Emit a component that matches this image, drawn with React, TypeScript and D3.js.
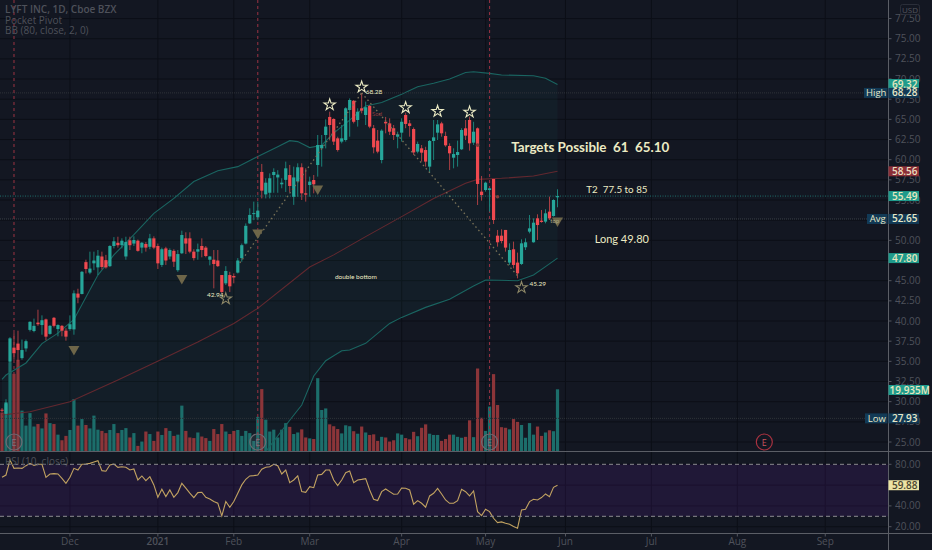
import { useEffect, useRef } from 'react';
import * as d3 from 'd3';

// [open, high, low, close], one row per trading day
const candles: [number, number, number, number][] = [
  [29, 29.2, 28.7, 28.95], [28.5, 30.3, 27.93, 29.9], [34.96, 38, 34.8, 37.85], [36.7, 38.5, 35.2, 36], [37.2, 38.8, 35, 36.4],
  [35.4, 37.7, 35.2, 36.4], [36.6, 37.7, 36.2, 37.5], [38.9, 39.96, 38.7, 39.9], [38.76, 40.3, 38.6, 39.4], [39.8, 41.4, 39.4, 39.6],
  [39.5, 40.7, 38.3, 40.1], [40.2, 40.3, 37.6, 38.06], [38.4, 39.5, 38.3, 39.4], [40.4, 40.5, 39.2, 39.4], [39, 39.6, 38.1, 39.5],
  [39.4, 39.5, 38.1, 38.8], [38.8, 39.1, 37.56, 38.06], [39, 40.7, 38.8, 39.6], [38.96, 43.8, 38.3, 43.43], [43.4, 44, 42.2, 42.9],
  [43.35, 46.2, 43.3, 46.1], [47.3, 47.6, 45.9, 46.45], [46, 48.6, 45.8, 46.5], [47.15, 48.6, 46.3, 47.5], [46.65, 48.8, 45.7, 48.1],
  [48, 48.6, 46.4, 46.7], [47.55, 48.2, 46.5, 46.65], [46.8, 49.4, 46.7, 49.3], [49.3, 50.4, 49, 49.88], [49.7, 50.45, 49.1, 49.4],
  [49.4, 50.25, 49, 49.96], [48, 50.45, 47.6, 49.8], [50, 50.45, 48.8, 49.4], [49.6, 50.5, 49.3, 50.04], [49.96, 50.1, 48.6, 48.7],
  [49.1, 49.8, 48.4, 49.7], [49.55, 49.8, 48.6, 49.1], [49.2, 50.8, 48.9, 50.25], [50.25, 50.5, 48.9, 49.1], [49.3, 49.6, 46.45, 47.15],
  [46.95, 49.1, 46.7, 48.9], [49, 49.2, 46.95, 47.5], [48, 49, 47.65, 48.8], [48.7, 48.9, 46.7, 47.35], [46.3, 48.8, 46.1, 48.3],
  [48.4, 51.2, 48.3, 50.66], [50.25, 51, 48.3, 49.6], [50.25, 51, 48.4, 48.6], [48.6, 48.9, 47.5, 47.8], [48.6, 49.6, 47.6, 48.9],
  [49.3, 50.25, 47.9, 48.8], [49.1, 49.3, 47.9, 48.06], [47.6, 48.06, 46.9, 48], [47.6, 48.8, 44.05, 47.07], [47.5, 48.8, 46.7, 46.8],
  [45.7, 45.7, 43.4, 43.6], [44.67, 46.8, 44.46, 46.2], [45.7, 46.1, 43.6, 44.3], [45.58, 45.9, 44.67, 45.4], [46, 47.8, 45.9, 47.5],
  [47.8, 49.6, 47.35, 49.4], [49.6, 52.1, 49.5, 51.8], [52.1, 53.97, 52.03, 53.15], [53.3, 54.8, 52.5, 53.38], [52.86, 54.8, 52.5, 53.68],
  [58.48, 59.47, 55.2, 56.16], [55.7, 57.7, 55.2, 57.15], [55.9, 58.3, 55.2, 57.7], [58.1, 58.93, 55.9, 58.48], [57.8, 58.7, 55.9, 58.15],
  [56.95, 57.7, 56.45, 57.15], [57.5, 59.76, 56, 58.93], [58.1, 59.35, 56, 56.74], [55.4, 59.14, 54.4, 57.8], [57.3, 59.55, 55.4, 59.06],
  [59.06, 59.55, 55, 55.83], [55.83, 58.93, 54.8, 55.67], [56.86, 57.9, 55.4, 57.28], [57.48, 58.1, 55.83, 56.95], [59.34, 63.06, 57.9, 61.82],
  [61.41, 63.06, 59.14, 61.82], [63.06, 65, 61.4, 64.1], [65.3, 65.95, 62.4, 64.3], [65.05, 65.13, 61.82, 62.24], [62.65, 62.85, 61, 61.2],
  [62.24, 64.3, 62.03, 62.65], [62.44, 66.5, 62.24, 66.37], [66.16, 67.6, 62.85, 67.4], [67.3, 67.4, 64.5, 64.7], [64.92, 66.37, 64.1, 65.95],
  [66.37, 68.28, 65.75, 66.08], [65.54, 67.2, 64.3, 66.5], [66.66, 66.78, 63.9, 64.1], [63.9, 64.3, 60.79, 61.53], [62.36, 63.68, 60.79, 61],
  [59.96, 63.77, 59.55, 63.6], [64.7, 65.3, 63.27, 64.5], [64.5, 65.13, 63.06, 63.47], [63.9, 64.3, 62.44, 63.06], [62.85, 63.47, 61.41, 63.14],
  [63.35, 65.13, 62.24, 64.7], [65.54, 65.83, 63.9, 64.43], [64.5, 64.92, 62.85, 64.18], [63.8, 64, 60.58, 60.9], [61, 62.24, 60.79, 61.95],
  [61.41, 61.82, 59.76, 60.87], [61.2, 61.6, 59.14, 59.76], [59.14, 62.44, 58.4, 62.32], [62.32, 64.92, 59.96, 62.77], [63.35, 64.92, 62.44, 64.38],
  [64.5, 64.7, 62.85, 63.27], [62.94, 63.47, 61.6, 61.78], [61.7, 62.03, 58.72, 60.79], [60.25, 61.41, 58.93, 60.7], [60.58, 62.36, 59.14, 60.95],
  [61.29, 63.9, 61.2, 63.68], [63.89, 64.92, 62.44, 62.98], [64.92, 65.33, 61.12, 62.03], [62.11, 64.7, 61.82, 63.47], [63.89, 64, 54.38, 56.99],
  [56.04, 57.98, 54.92, 55.62], [56.24, 57.28, 56.04, 57.15], [56.24, 56.45, 53.56, 56.45], [57.61, 57.61, 52.03, 52.52], [50.58, 51.29, 49.22, 49.76],
  [50.58, 51.37, 49.63, 49.92], [51.29, 51.29, 48.6, 49.1], [47.24, 49.63, 46.95, 48.8], [48.89, 49.84, 46.53, 46.95], [47.24, 48.48, 45.29, 45.91],
  [47.07, 50.13, 46.95, 49.63], [49.14, 50.25, 48.8, 49.76], [51.08, 53.14, 50.87, 51.49], [49.76, 52.73, 49.71, 52.19], [52.73, 53.23, 50.05, 51.9],
  [52.44, 53.76, 52.19, 52.28], [52.32, 53.85, 52.11, 53.35], [53.56, 55.42, 52.52, 52.73], [53.02, 55.09, 52.94, 55], [55.34, 56.33, 54.1, 55.49],
];

// millions of shares
const volumes = [
  12.5, 15.2, 28.6, 24.9, 29.4, 13.1, 8.3, 12.3, 8, 8.8, 7.4, 12.2, 9.1, 8.8, 5.4, 3.6, 5, 6.9, 16.8, 8.3,
  10.4, 8.5, 7.4, 11.5, 7, 6.6, 5.9, 6.9, 8.8, 5.9, 6.9, 7.5, 4.5, 5.9, 1.8, 3.2, 6.4, 5.6, 3.4, 6.4,
  5.3, 7.5, 6.6, 5, 5.4, 14.7, 6.6, 4.5, 4.3, 6.1, 4.8, 4.3, 3.4, 7.2, 5.6, 8.8, 6.4, 5.6, 6.6, 6.9,
  5, 6.6, 5.9, 3.4, 11.1, 20, 10.2, 6.4, 7, 4.5, 7, 9.1, 7.9, 5.6, 6.1, 7.1, 4.5, 4.2, 4, 23.5,
  13.3, 13.8, 8.7, 8.1, 7.2, 5.8, 8.4, 8.1, 6.5, 5.7, 8, 6.1, 5.3, 5.5, 3.4, 4.7, 4.5, 3.2, 3.6, 5.8,
  5.4, 4.3, 3.9, 6.3, 4.9, 7.6, 8.7, 5.7, 5.3, 5.3, 3.4, 4, 5.4, 5.4, 4.7, 4.4, 4.7, 10, 4.6, 26.6,
  10.8, 6.6, 14.4, 24.8, 14.9, 7.8, 7.6, 7.1, 10.4, 9.5, 8.5, 4.4, 9.1, 5.4, 8, 5, 6.1, 6.8, 6.5, 19.935,
];

const rsiValues = [
  67.5, 69.7, 84.1, 76.1, 76.4, 76.1, 78.7, 80.9, 79, 80, 80, 67.5, 70.7, 71, 70.7, 66.5, 61.7, 67.5, 76.1, 74.5,
  80, 80.3, 80.9, 82.2, 83.5, 73.9, 73.3, 79.3, 80.3, 77.1, 77.7, 77.1, 74.5, 75.5, 64.9, 68.8, 64.3, 68.1, 60.2, 48.3,
  56, 49, 55.4, 48.3, 52.8, 61.7, 57, 52.2, 48, 52.8, 53.1, 48.3, 46.7, 44.2, 42.6, 30.4, 44.2, 38.7, 44.2, 52.2,
  60.2, 65.6, 68.8, 69.1, 69.7, 75.2, 77.1, 77.7, 80, 78.7, 70.7, 74.5, 62.4, 64.9, 68.8, 53.8, 53.1, 58.5, 57.5, 69.7,
  70.3, 74.5, 74.5, 64.9, 59.5, 64.9, 72, 73.5, 62.3, 64.9, 65.5, 66.2, 55.3, 46.4, 45.1, 53.7, 56.3, 53.7, 51.2, 51.5,
  57.2, 56.9, 55.3, 41.6, 45.1, 42.5, 38.7, 49.6, 52.1, 56.9, 51.5, 45.7, 42.5, 42.5, 45.1, 55.9, 53.7, 49.6, 54.4, 34.5,
  30.7, 36.8, 34.5, 28.1, 24, 24.6, 23.4, 22.4, 20.2, 18.6, 36.1, 36.8, 44.1, 46.4, 45.7, 48, 51.5, 48.9, 57.9, 59.88,
];

// Bollinger readings: [bar, price]
const bbUpper: [number, number][] = [
  [0, 32.77], [1, 33.3], [6, 34.8], [10, 37.2], [14, 38.5], [18, 40.2], [24, 45.7], [28, 48.2], [33, 50.7], [38, 53.35],
  [43, 55.2], [48, 57.3], [54, 58.64], [59, 59.14], [64, 60.4], [69, 61.6], [72, 62.36], [74, 62.24], [77, 61.5], [80, 61.8],
  [83, 63.3], [87, 64.9], [91, 66.66], [95, 67.1], [100, 68.1], [104, 69.05], [108, 69.47], [112, 70], [116, 70.8], [118, 70.9],
  [122, 70.7], [125, 70.5], [133, 70.4], [136, 70.1], [139, 69.32],
];
const bbBasis: [number, number][] = [
  [0, 28.35], [7, 28.76], [17, 30], [29, 32.7], [40, 35.25], [49, 37.4], [58, 39.7], [64, 41.57], [77, 46.7], [83, 48.2],
  [91, 50.46], [100, 52.94], [108, 55.2], [116, 57.07], [119, 57.56], [125, 57.69], [133, 57.98], [139, 58.56],
];
const bbLower: [number, number][] = [
  [0, 22], [66, 23.8], [72, 27.7], [75, 29.58], [78, 33.18], [81, 35.08], [85, 36.32], [87, 36.4], [91, 37.23], [97, 39.7],
  [100, 40.45], [106, 41.69], [112, 42.7], [118, 44.34], [121, 45.09], [129, 45], [133, 45.7], [136, 46.74], [139, 47.8],
];

const priceTicks = d3.range(25, 80, 2.5);
const rsiTicks = [20, 40, 60, 80];
// these sit fully behind an axis tag in the reference
const hiddenPriceTicks = [47.5, 52.5];
const hiddenRsiTicks = [60];
const monthTicks: [number, string][] = [
  [17, 'Dec'], [39, '2021'], [58, 'Feb'], [77, 'Mar'], [100, 'Apr'], [121, 'May'], [141, 'Jun'], [162.5, 'Jul'], [184, 'Aug'], [206, 'Sep'],
];
const earningsBars = [3, 64, 122, 190.75];
const topStars: [number, number][] = [[82, 66.8], [90, 69], [101, 66.45], [109, 66], [117, 65.9]];
const lowStars: [number, number][] = [[56, 42.75], [130, 44.15]];
const pivots: [number, number][] = [[18, 36.5], [45, 45.3], [64, 50.95], [79, 56.4], [139, 52.45]];
const smallDots: [number, number][] = [[119, 61.8], [124, 55.4]];
const trendUp: [number, number][] = [[59.5, 47.2], [90, 68.28]];
const trendDown: [number, number][] = [[90, 68.28], [129, 45.6]];

const FONT = '"Open Sans", "Noto Sans", sans-serif';

export default function App() {
  const svgRef = useRef<SVGSVGElement>(null);

  useEffect(() => {
    if (!svgRef.current) return;
    const svg = d3.select(svgRef.current);
    svg.selectAll('*').remove();

    const axisX = 888.5;
    const paneBottom = 451.5;
    const rsiBottom = 533.5;

    const x = d3.scaleLinear().domain([0, 139]).range([2, 557.5]);
    const y = d3.scaleLinear().domain([25, 75]).range([442, 38.7]);
    const yVol = d3.scaleLinear().domain([0, 19.935]).range([paneBottom, 389.3]);
    const yRsi = d3.scaleLinear().domain([20, 80]).range([526.7, 464.3]);

    svg.append('rect').attr('width', 932).attr('height', 550).attr('fill', '#131722');

    const defs = svg.append('defs');
    defs.append('clipPath').attr('id', 'pricePane').append('rect')
      .attr('width', axisX).attr('height', paneBottom);

    // Grid
    const grid = svg.append('g').attr('stroke', '#0c0f17').attr('stroke-width', 1);
    priceTicks.forEach(t => {
      grid.append('line').attr('x1', 0).attr('x2', axisX).attr('y1', y(t)).attr('y2', y(t));
    });
    rsiTicks.forEach(t => {
      grid.append('line').attr('x1', 0).attr('x2', axisX).attr('y1', yRsi(t)).attr('y2', yRsi(t));
    });
    monthTicks.forEach(([k]) => {
      grid.append('line').attr('x1', x(k)).attr('x2', x(k)).attr('y1', 0).attr('y2', rsiBottom);
    });

    // RSI band goes over the grid but keeps it visible
    svg.append('rect')
      .attr('x', 0).attr('width', axisX)
      .attr('y', yRsi(80)).attr('height', yRsi(30) - yRsi(80))
      .attr('fill', '#7b1fc8').attr('opacity', 0.13);

    const pane = svg.append('g').attr('clip-path', 'url(#pricePane)');

    // Bollinger fill
    const lowerAt = d3.scaleLinear().domain(bbLower.map(d => d[0])).range(bbLower.map(d => d[1]));
    const area = d3.area<[number, number]>()
      .x(d => x(d[0]))
      .y0(d => y(lowerAt(d[0])))
      .y1(d => y(d[1]));
    pane.append('path').attr('d', area(bbUpper)).attr('fill', '#26a69a').attr('opacity', 0.055);

    // Volume
    pane.append('g').selectAll('rect').data(volumes).join('rect')
      .attr('x', (_, i) => x(i) - 1.6)
      .attr('width', 3.2)
      .attr('y', d => yVol(d))
      .attr('height', d => paneBottom - yVol(d))
      .attr('fill', (_, i) => candles[i][3] >= candles[i][0] ? '#1c6e6b' : '#8c3539');

    // Bollinger lines
    const bandLine = d3.line<[number, number]>().x(d => x(d[0])).y(d => y(d[1]));
    pane.append('path').attr('d', bandLine(bbUpper)).attr('fill', 'none').attr('stroke', '#1a6561').attr('stroke-width', 1.1);
    pane.append('path').attr('d', bandLine(bbLower)).attr('fill', 'none').attr('stroke', '#1a6561').attr('stroke-width', 1.1);
    pane.append('path').attr('d', bandLine(bbBasis)).attr('fill', 'none').attr('stroke', '#63282f').attr('stroke-width', 1.1);

    // Price lines
    const priceLine = (value: number, color: string, dash: string) => {
      pane.append('line')
        .attr('x1', 0).attr('x2', axisX).attr('y1', y(value)).attr('y2', y(value))
        .attr('stroke', color).attr('stroke-dasharray', dash);
    };
    priceLine(68.28, '#2e3238', '1,1');
    priceLine(52.65, '#3c4046', '1,1');
    priceLine(27.93, '#2e3238', '1,1');
    priceLine(55.49, '#1f6f6c', '1,1.5');

    // Earnings markers
    earningsBars.slice(0, 3).forEach(k => {
      pane.append('line')
        .attr('x1', x(k)).attr('x2', x(k)).attr('y1', 0).attr('y2', paneBottom)
        .attr('stroke', '#8f3040').attr('stroke-width', 1.1).attr('stroke-dasharray', '3,3');
    });

    // Candles
    const candle = pane.append('g').selectAll('g').data(candles).join('g');
    candle.append('line')
      .attr('x1', (_, i) => x(i)).attr('x2', (_, i) => x(i))
      .attr('y1', d => y(d[1])).attr('y2', d => y(d[2]))
      .attr('stroke', d => d[3] >= d[0] ? '#1b8279' : '#a93f44');
    candle.append('rect')
      .attr('x', (_, i) => x(i) - 1.6)
      .attr('width', 3.2)
      .attr('y', d => y(Math.max(d[0], d[3])))
      .attr('height', d => Math.max(1, Math.abs(y(d[0]) - y(d[3]))))
      .attr('fill', d => d[3] >= d[0] ? '#26a69a' : '#f0494f');

    earningsBars.forEach((k, i) => {
      const future = i === 3;
      pane.append('circle')
        .attr('cx', x(k)).attr('cy', 442).attr('r', 8)
        .attr('fill', future ? 'none' : '#6d6a72').attr('fill-opacity', 0.15)
        .attr('stroke', future ? '#a83240' : '#6d6a72')
        .attr('stroke-width', 1.2);
      pane.append('text')
        .attr('x', x(k)).attr('y', 445.5).attr('text-anchor', 'middle')
        .attr('font-family', FONT).attr('font-size', 9)
        .attr('fill', future ? '#c9545f' : '#7a7780')
        .text('E');
    });

    // Trend lines
    [trendUp, trendDown].forEach(seg => {
      pane.append('path').attr('d', bandLine(seg))
        .attr('fill', 'none').attr('stroke', '#7a7358')
        .attr('stroke-width', 1.3).attr('stroke-dasharray', '1.5,3');
    });

    // Pocket pivot triangles
    const tri = d3.symbol().type(d3.symbolTriangle).size(52);
    pane.append('g').selectAll('path').data(pivots).join('path')
      .attr('d', tri)
      .attr('transform', d => `translate(${x(d[0])},${y(d[1])}) rotate(180)`)
      .attr('fill', '#6e6649');

    pane.append('g').selectAll('circle').data(smallDots).join('circle')
      .attr('cx', d => x(d[0])).attr('cy', d => y(d[1])).attr('r', 1.8)
      .attr('fill', '#7d3b39');

    // Stars
    const star = d3.symbol().type(d3.symbolStar).size(40);
    pane.append('g').selectAll('path').data(topStars).join('path')
      .attr('d', star)
      .attr('transform', d => `translate(${x(d[0])},${y(d[1])})`)
      .attr('fill', 'none').attr('stroke', '#ecebc4').attr('stroke-width', 1.1);
    pane.append('g').selectAll('path').data(lowStars).join('path')
      .attr('d', star)
      .attr('transform', d => `translate(${x(d[0])},${y(d[1])})`)
      .attr('fill', 'none').attr('stroke', '#8d8767').attr('stroke-width', 1.1);

    // RSI
    const rsiLine = d3.line<number>().x((_, i) => x(i)).y(d => yRsi(d));
    svg.append('path').attr('d', rsiLine(rsiValues))
      .attr('fill', 'none').attr('stroke', '#c2a361').attr('stroke-width', 1.1);
    [80, 30].forEach(v => {
      svg.append('line')
        .attr('x1', 0).attr('x2', axisX).attr('y1', yRsi(v)).attr('y2', yRsi(v))
        .attr('stroke', '#8d8d92').attr('stroke-dasharray', '4,3');
    });

    // Pane frame
    const frame = svg.append('g').attr('stroke', '#5b5e66');
    frame.append('line').attr('x1', 0).attr('x2', 932).attr('y1', paneBottom).attr('y2', paneBottom);
    frame.append('line').attr('x1', 0).attr('x2', 932).attr('y1', rsiBottom).attr('y2', rsiBottom);
    frame.append('line').attr('x1', axisX).attr('x2', axisX).attr('y1', 0).attr('y2', 550);

    // Axis text
    const axisText = svg.append('g')
      .attr('font-family', FONT).attr('font-size', 10).attr('fill', '#4f525b');
    priceTicks.forEach(t => {
      svg.append('line').attr('x1', axisX).attr('x2', axisX + 3).attr('y1', y(t)).attr('y2', y(t)).attr('stroke', '#53565f');
      if (!hiddenPriceTicks.includes(t)) {
        axisText.append('text').attr('x', 895).attr('y', y(t) + 3.5).text(t.toFixed(2));
      }
    });
    rsiTicks.forEach(t => {
      svg.append('line').attr('x1', axisX).attr('x2', axisX + 3).attr('y1', yRsi(t)).attr('y2', yRsi(t)).attr('stroke', '#53565f');
      if (!hiddenRsiTicks.includes(t)) {
        axisText.append('text').attr('x', 895).attr('y', yRsi(t) + 3.5).text(t.toFixed(2));
      }
    });
    monthTicks.forEach(([k, label]) => {
      svg.append('line').attr('x1', x(k)).attr('x2', x(k)).attr('y1', rsiBottom).attr('y2', rsiBottom + 3).attr('stroke', '#53565f');
      axisText.append('text')
        .attr('x', x(k)).attr('y', 545).attr('text-anchor', 'middle')
        .attr('font-weight', label === '2021' ? 600 : 400)
        .text(label);
    });

    // USD box
    svg.append('rect').attr('x', 900.5).attr('y', 4.5).attr('width', 19).attr('height', 10).attr('rx', 2)
      .attr('fill', 'none').attr('stroke', '#2a2e39');
    svg.append('text').attr('x', 910).attr('y', 12.5).attr('text-anchor', 'middle')
      .attr('font-family', FONT).attr('font-size', 8).attr('fill', '#53565f').text('USD');

    // Right axis tags
    const axisTag = (cy: number, label: string, bg: string, fg: string, w = 30.5) => {
      svg.append('rect').attr('x', axisX).attr('y', cy - 5).attr('width', w).attr('height', 10).attr('fill', bg);
      svg.append('text').attr('x', axisX + w / 2 + 1).attr('y', cy + 3.5).attr('text-anchor', 'middle')
        .attr('font-family', FONT).attr('font-size', 10).attr('font-weight', 600).attr('fill', fg).text(label);
    };
    const sideTag = (cy: number, label: string, left: number) => {
      svg.append('rect').attr('x', left).attr('y', cy - 5).attr('width', axisX - left - 1).attr('height', 10).attr('fill', '#123a56');
      svg.append('text').attr('x', (left + axisX) / 2).attr('y', cy + 3.5).attr('text-anchor', 'middle')
        .attr('font-family', FONT).attr('font-size', 9.5).attr('fill', '#e8e8c8').text(label);
    };
    axisTag(y(69.32) - 0.5, '69.32', '#1f9b8c', '#e8e8c0');
    axisTag(y(68.28), '68.28', '#123a56', '#e8e8c8');
    sideTag(y(68.28), 'High', 864);
    axisTag(y(58.56), '58.56', '#8b2e37', '#eadfc0');
    axisTag(y(55.49), '55.49', '#1f9b8c', '#e8e8c0');
    axisTag(y(52.65), '52.65', '#123a56', '#e8e8c8');
    sideTag(y(52.65), 'Avg', 867);
    axisTag(y(47.8), '47.80', '#1f9b8c', '#e8e8c0');
    axisTag(yVol(19.935) + 0.7, '19.935M', '#1f9b8c', '#e8e8c0', 40.5);
    axisTag(y(27.93), '27.93', '#123a56', '#e8e8c8');
    sideTag(y(27.93), 'Low', 865);
    axisTag(yRsi(59.88), '59.88', '#ece3a4', '#4a4630');

    // Legend
    const legend = svg.append('g').attr('font-family', FONT).attr('font-size', 10).attr('fill', '#4e515a');
    legend.append('text').attr('x', 5).attr('y', 13).attr('font-weight', 600).text('LYFT INC, 1D, Cboe BZX');
    legend.append('text').attr('x', 5).attr('y', 23.5).text('Pocket Pivot');
    legend.append('text').attr('x', 5).attr('y', 33.5).text('BB (80, close, 2, 0)');
    legend.append('text').attr('x', 5).attr('y', 465).text('RSI (10, close)');

    // Notes on the chart
    const note = (k: number, price: number, label: string, size: number, weight = 400, color = '#ecebc4') => {
      svg.append('text')
        .attr('x', x(k)).attr('y', y(price))
        .attr('font-family', '"Lato", "Open Sans", sans-serif')
        .attr('font-size', size).attr('font-weight', weight)
        .attr('fill', color)
        .style('white-space', 'pre')
        .text(label);
    };
    note(127.4, 60.95, 'Targets Possible  61  65.10', 13.4, 700);
    note(146.2, 55.9, 'T2  77.5 to 85', 9.8);
    note(148.3, 49.65, 'Long 49.80', 11);
    note(83.3, 45.2, 'double bottom', 6.5);
    note(91, 68.2, '68.28', 6.5);
    note(51.3, 43, '42.94', 6.5);
    note(132, 44.4, '45.29', 6.5);
    note(92.6, 65.4, 'Sod', 6, 400, '#8a3338');
    note(137.2, 52.2, 'top', 6, 400, '#a9a684');
  }, []);

  return (
    <svg
      ref={svgRef}
      width={932}
      height={550}
      style={{ position: 'absolute', left: 0, top: 0, display: 'block' }}
    />
  );
}
